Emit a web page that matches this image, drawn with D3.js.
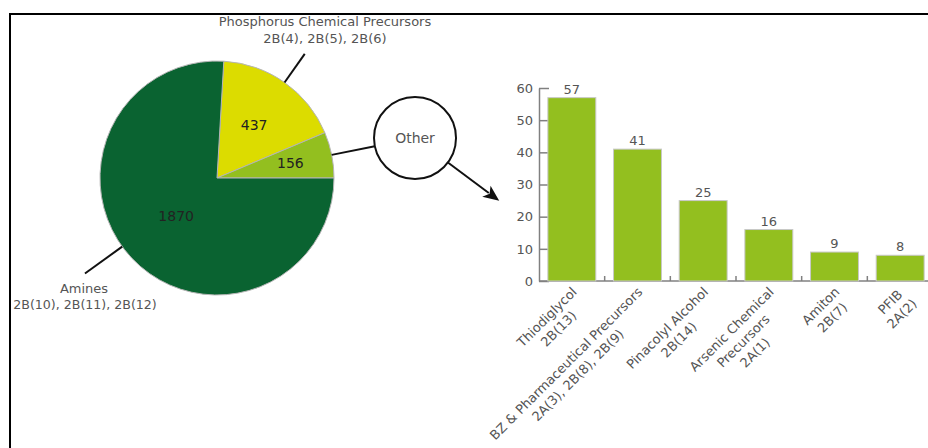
<!DOCTYPE html>
<html>
<head>
<meta charset="utf-8">
<script src="https://cdn.jsdelivr.net/npm/d3@7"></script>
<style>
  html, body { margin: 0; padding: 0; background: #fff; }
  svg { display: block; font-family: "DejaVu Sans", sans-serif; }
</style>
</head>
<body>
<svg id="chart" width="928" height="448"></svg>
<script>
// ---------- data ----------
const pieNames = ["Phosphorus Chemical Precursors", "Other", "Amines"];
const pieSubLabels = ["2B(4), 2B(5), 2B(6)", "", "2B(10), 2B(11), 2B(12)"];
const pieValues = [437, 156, 1870];
const pieColors = ["#dcdc00", "#93bf1f", "#0a6331"];

const barCategories = [
  ["Thiodiglycol", "2B(13)"],
  ["BZ & Pharmaceutical Precursors", "2A(3), 2B(8), 2B(9)"],
  ["Pinacolyl Alcohol", "2B(14)"],
  ["Arsenic Chemical", "Precursors", "2A(1)"],
  ["Amiton", "2B(7)"],
  ["PFIB", "2A(2)"]
];
const barValues = [57, 41, 25, 16, 9, 8];
const yTicks = [0, 10, 20, 30, 40, 50, 60];

// ---------- setup ----------
const svg = d3.select("#chart");
const textColor = "#555";
const axisColor = "#808080";

// frame
svg.append("line").attr("x1", 10).attr("x2", 928).attr("y1", 14).attr("y2", 14)
  .attr("stroke", "#000").attr("stroke-width", 2);
svg.append("line").attr("x1", 10).attr("x2", 10).attr("y1", 13).attr("y2", 448)
  .attr("stroke", "#000").attr("stroke-width", 2);

// ---------- pie ----------
const cx = 217, cy = 178, R = 117;
const total = d3.sum(pieValues);
const pieStart = Math.PI / 2 - (pieValues[0] + pieValues[1]) / total * 2 * Math.PI;
const pie = d3.pie().sort(null).startAngle(pieStart).endAngle(pieStart + 2 * Math.PI);
const arcs = pie(pieValues);
const arc = d3.arc().innerRadius(0).outerRadius(R);
const gPie = svg.append("g").attr("transform", `translate(${cx},${cy})`);
gPie.selectAll("path").data(arcs).join("path")
  .attr("d", arc)
  .attr("fill", (d, i) => pieColors[i])
  .attr("stroke", "#b5b5b5").attr("stroke-width", 1);

const labelRadiusFactor = [0.55, 0.64, 0.48];
function polar(angle, r) { return [Math.sin(angle) * r, -Math.cos(angle) * r]; }
gPie.selectAll("text.val").data(arcs).join("text")
  .attr("class", "val")
  .attr("x", (d, i) => polar((d.startAngle + d.endAngle) / 2, R * labelRadiusFactor[i])[0])
  .attr("y", (d, i) => polar((d.startAngle + d.endAngle) / 2, R * labelRadiusFactor[i])[1])
  .attr("dy", "0.35em")
  .attr("text-anchor", "middle")
  .attr("font-size", 14)
  .attr("fill", "#222")
  .text(d => d.data);

// leader line: phosphorus
const midP = (arcs[0].startAngle + arcs[0].endAngle) / 2;
let p1 = polar(midP, R), p2 = polar(midP, R + 35);
gPie.append("line").attr("x1", p1[0]).attr("y1", p1[1]).attr("x2", p2[0]).attr("y2", p2[1])
  .attr("stroke", "#111").attr("stroke-width", 2);
const tP = gPie.append("text").attr("text-anchor", "middle").attr("font-size", 13).attr("fill", textColor);
tP.append("tspan").attr("x", 108).attr("y", -152).text(pieNames[0]);
tP.append("tspan").attr("x", 108).attr("y", -135).text(pieSubLabels[0]);

// leader line: amines
const angA = (arcs[2].startAngle + arcs[2].endAngle) / 2 + 0.13;
p1 = polar(angA, R); p2 = polar(angA, R + 46);
gPie.append("line").attr("x1", p1[0]).attr("y1", p1[1]).attr("x2", p2[0]).attr("y2", p2[1])
  .attr("stroke", "#111").attr("stroke-width", 2);
const tA = gPie.append("text").attr("text-anchor", "middle").attr("font-size", 13).attr("fill", textColor);
tA.append("tspan").attr("x", -133).attr("y", 115).text(pieNames[2]);
tA.append("tspan").attr("x", -132).attr("y", 131).attr("font-size", 12.6).text(pieSubLabels[2]);

// "Other" bubble
const midO = (arcs[1].startAngle + arcs[1].endAngle) / 2;
const bubbleDist = 202, bubbleR = 41;
const bc = polar(midO, bubbleDist);
p1 = polar(midO, R); p2 = polar(midO, bubbleDist - bubbleR);
gPie.append("line").attr("x1", p1[0]).attr("y1", p1[1]).attr("x2", p2[0]).attr("y2", p2[1])
  .attr("stroke", "#111").attr("stroke-width", 2);
gPie.append("circle").attr("cx", bc[0]).attr("cy", bc[1]).attr("r", bubbleR)
  .attr("fill", "#fff").attr("stroke", "#111").attr("stroke-width", 2);
gPie.append("text").attr("x", bc[0]).attr("y", bc[1]).attr("dy", "0.35em")
  .attr("text-anchor", "middle").attr("font-size", 14).attr("fill", textColor).text(pieNames[1]);

// arrow from bubble to bar chart
const arrAng = Math.atan2(38, 51); // direction toward lower-right
const a1 = [bc[0] + Math.cos(arrAng) * bubbleR, bc[1] + Math.sin(arrAng) * bubbleR];
const arrLen = 64;
const tip = [a1[0] + Math.cos(arrAng) * arrLen, a1[1] + Math.sin(arrAng) * arrLen];
const headL = 16, headW = 7;
const base = [tip[0] - Math.cos(arrAng) * headL, tip[1] - Math.sin(arrAng) * headL];
gPie.append("line").attr("x1", a1[0]).attr("y1", a1[1]).attr("x2", base[0] + Math.cos(arrAng) * 3).attr("y2", base[1] + Math.sin(arrAng) * 3)
  .attr("stroke", "#111").attr("stroke-width", 2);
const nx = -Math.sin(arrAng), ny = Math.cos(arrAng);
gPie.append("path")
  .attr("d", `M${tip[0]},${tip[1]} L${base[0] + nx * headW},${base[1] + ny * headW} L${base[0] + Math.cos(arrAng) * 4},${base[1] + Math.sin(arrAng) * 4} L${base[0] - nx * headW},${base[1] - ny * headW} Z`)
  .attr("fill", "#111");

// ---------- bar chart ----------
const x0 = 539, x1 = 933, yBase = 281, yTop = 88;
const x = d3.scaleBand().domain(d3.range(barValues.length)).range([x0, x1])
  .paddingInner(0.27).paddingOuter(0.135);
const y = d3.scaleLinear().domain([0, 60]).range([yBase, yTop]);

const gBar = svg.append("g");
// y axis
const yAxis = d3.axisLeft(y).tickValues(yTicks).tickSizeInner(-10).tickSizeOuter(0).tickPadding(6);
const gy = gBar.append("g").attr("transform", `translate(${x0},0)`).call(yAxis);
gy.select(".domain").attr("stroke", axisColor).attr("stroke-width", 1.5);
gy.selectAll(".tick line").attr("stroke", axisColor).attr("stroke-width", 1.5);
gy.selectAll(".tick text").attr("fill", textColor).attr("font-size", 13)
  .attr("font-family", "DejaVu Sans, sans-serif");

// x baseline + ticks between bars
gBar.append("line").attr("x1", x0).attr("x2", 928).attr("y1", yBase).attr("y2", yBase)
  .attr("stroke", axisColor).attr("stroke-width", 1.5);
const gapHalf = x.step() * x.paddingInner() / 2;
gBar.selectAll("line.xt").data(d3.range(1, barValues.length)).join("line")
  .attr("class", "xt")
  .attr("x1", i => x(i) - gapHalf).attr("x2", i => x(i) - gapHalf)
  .attr("y1", yBase).attr("y2", yBase - 5)
  .attr("stroke", axisColor).attr("stroke-width", 1.5);

// bars
gBar.selectAll("rect").data(barValues).join("rect")
  .attr("x", (d, i) => x(i))
  .attr("y", d => y(d))
  .attr("width", x.bandwidth())
  .attr("height", d => yBase - y(d))
  .attr("fill", "#93bf1f")
  .attr("stroke", "#c8c8c8").attr("stroke-width", 1);

// value labels
gBar.selectAll("text.bv").data(barValues).join("text")
  .attr("class", "bv")
  .attr("x", (d, i) => x(i) + x.bandwidth() / 2)
  .attr("y", d => y(d) - 4)
  .attr("text-anchor", "middle")
  .attr("font-size", 13)
  .attr("fill", textColor)
  .text(d => d);

// category labels rotated -45
const catFs = 13, catLh = 16.5;
barCategories.forEach((lines, i) => {
  const g = gBar.append("g")
    .attr("transform", `translate(${x(i) + x.bandwidth() / 2 - 2},${yBase + 4}) rotate(-45)`);
  const t = g.append("text").attr("font-size", catFs).attr("fill", textColor).attr("text-anchor", "middle");
  const spans = lines.map((ln, k) => t.append("tspan").attr("y", 11 + k * catLh).text(ln));
  const W = d3.max(spans, s => s.node().getComputedTextLength());
  spans.forEach(s => s.attr("x", -W / 2));
});
</script>
</body>
</html>
